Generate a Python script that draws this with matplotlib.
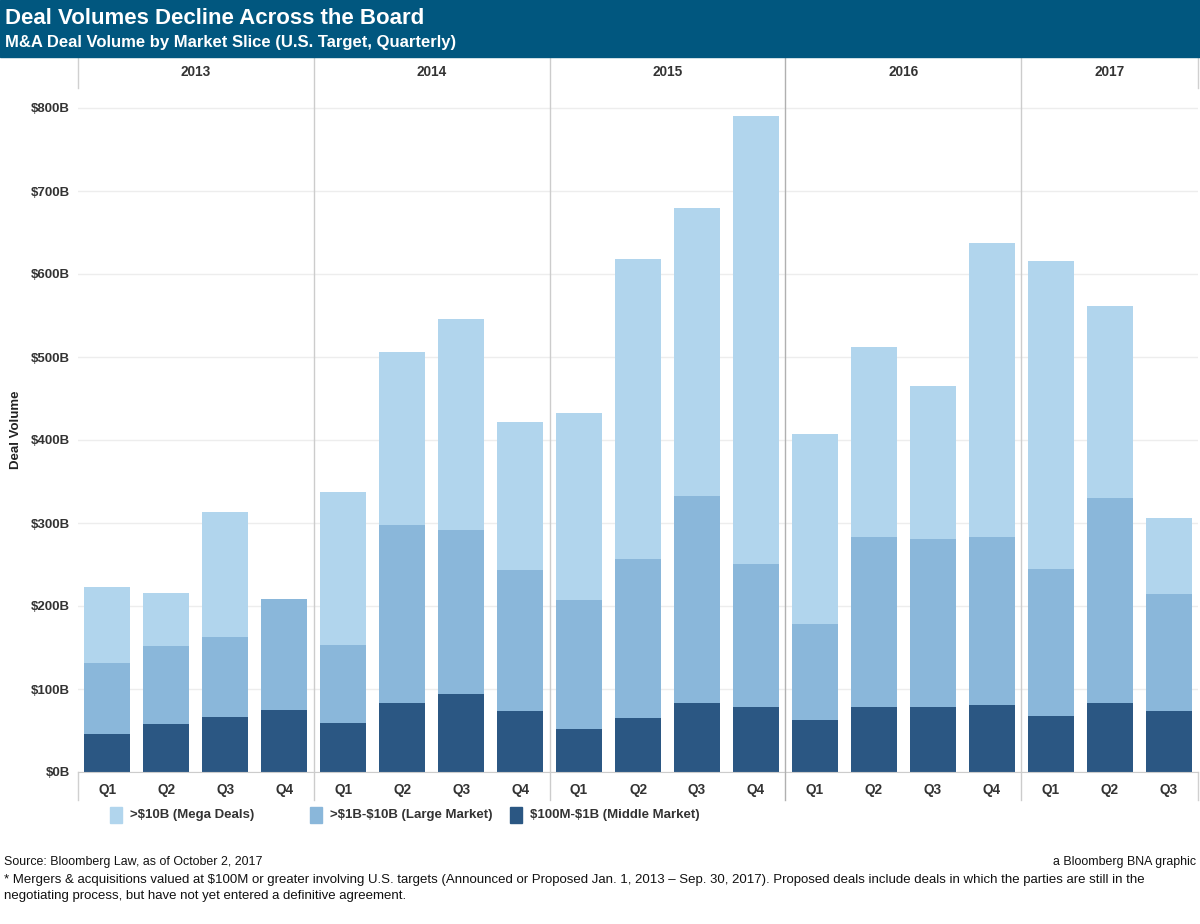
import matplotlib
matplotlib.use("Agg")
import matplotlib.pyplot as plt
import numpy as np
from matplotlib.patches import Rectangle

plt.rcParams['font.family'] = ['Liberation Sans', 'DejaVu Sans']
plt.rcParams['text.parse_math'] = False

years = ["2013", "2014", "2015", "2016", "2017"]
quarters_per_year = [4, 4, 4, 4, 3]
quarter_labels = ["Q1", "Q2", "Q3", "Q4"] * 4 + ["Q1", "Q2", "Q3"]

# values in $B
middle = [46, 58, 66, 75, 59, 83, 94, 73, 52, 65, 83, 78, 63, 78, 78, 81, 68, 83, 73]
large = [85, 94, 97, 134, 94, 215, 197, 170, 155, 192, 250, 173, 115, 205, 203, 202, 176, 247, 142]
mega = [92, 64, 150, 0, 184, 208, 255, 179, 225, 361, 347, 539, 229, 229, 184, 354, 372, 231, 91]

series_names = [">$10B (Mega Deals)", ">$1B-$10B (Large Market)", "$100M-$1B (Middle Market)"]
c_mega, c_large, c_mid = "#b1d5ed", "#8ab7da", "#2b5783"

W, H = 1200, 924
fig = plt.figure(figsize=(W / 100, H / 100), dpi=100)

def fx(px):
    return px / W

def fy(py):
    return 1 - py / H

# header band
fig.patches.append(Rectangle((0, fy(57)), 1, 57 / H, transform=fig.transFigure,
                             color="#01577f", zorder=0))
fig.text(fx(5), fy(18), "Deal Volumes Decline Across the Board", color="white",
         fontsize=16, fontweight="bold", va="center", ha="left")
fig.text(fx(5), fy(42), "M&A Deal Volume by Market Slice (U.S. Target, Quarterly)", color="white",
         fontsize=12, fontweight="bold", va="center", ha="left")

ax_l, ax_r, ax_t, ax_b = 78, 1198, 88, 772
ax = fig.add_axes([fx(ax_l), fy(ax_b), (ax_r - ax_l) / W, (ax_b - ax_t) / H])

x = np.arange(len(middle))
mid_arr = np.array(middle)
large_arr = np.array(large)
mega_arr = np.array(mega)
bw = 0.78
ax.bar(x, mid_arr, width=bw, color=c_mid, zorder=3)
ax.bar(x, large_arr, width=bw, bottom=mid_arr, color=c_large, zorder=3)
ax.bar(x, mega_arr, width=bw, bottom=mid_arr + large_arr, color=c_mega, zorder=3)

ymax = (ax_b - ax_t) / 0.83
ax.set_ylim(0, ymax)
ax.set_xlim(-0.5, len(middle) - 0.5)

yt = np.arange(0, 801, 100)
ax.set_yticks(yt)
ax.set_yticklabels([f"${v}B" for v in yt], fontsize=9.5, fontweight="bold", color="#333333")
ax.set_xticks(x)
ax.set_xticklabels(quarter_labels, fontsize=9.8, fontweight="bold", color="#333333")
ax.tick_params(axis="both", length=0)
ax.tick_params(axis="y", pad=6)
ax.tick_params(axis="x", pad=8)
ax.grid(axis="y", color="#ededed", linewidth=1, zorder=0)
for s in ["top", "left", "right"]:
    ax.spines[s].set_visible(False)
ax.spines["bottom"].set_color("#cccccc")
ax.spines["bottom"].set_zorder(4)

ax.set_ylabel("Deal Volume", fontsize=9.5, fontweight="bold", color="#222222")
ax.yaxis.set_label_coords(-0.050, 0.5)

tr = ax.get_xaxis_transform()
axh = ax_b - ax_t
y_low = -(800 - ax_b) / axh
y_high = 1 + (ax_t - 58) / axh
# year separators
bounds = np.cumsum(quarters_per_year)
starts = np.concatenate([[0], bounds[:-1]])
sep_colors = ["#cccccc", "#cccccc", "#b0b0b0", "#cccccc"]
for b, sc in zip(bounds[:-1], sep_colors):
    ax.plot([b - 0.5, b - 0.5], [y_low, y_high], transform=tr, color=sc,
            linewidth=1, clip_on=False, zorder=5)
for edge in [-0.5, len(middle) - 0.5]:
    ax.plot([edge, edge], [1.0, y_high], transform=tr, color="#d0d0d0", linewidth=1, clip_on=False)
    ax.plot([edge, edge], [y_low, 0], transform=tr, color="#d0d0d0", linewidth=1, clip_on=False)
for yr, s, n in zip(years, starts, quarters_per_year):
    ax.text(s + (n - 1) / 2, 1 + (ax_t - 72) / axh, yr, transform=tr, ha="center", va="center",
            fontsize=9.8, fontweight="bold", color="#333333")

# legend
leg_y = 815
for i, (name, col) in enumerate(zip(series_names, [c_mega, c_large, c_mid])):
    x0 = 110 + i * 200
    fig.patches.append(Rectangle((fx(x0), fy(leg_y + 8)), 12 / W, 16 / H,
                                 transform=fig.transFigure, color=col))
    fig.text(fx(x0 + 20), fy(leg_y), name, fontsize=9.5, fontweight="bold",
             color="#333333", va="center", ha="left")

# footer
fs = 9.5
fig.text(fx(4), fy(862), "Source: Bloomberg Law, as of October 2, 2017", fontsize=8.9,
         va="center", ha="left", color="#111111")
fig.text(fx(1196), fy(862), "a Bloomberg BNA graphic", fontsize=8.9, va="center", ha="right",
         color="#111111")
fig.text(fx(4), fy(880), "* Mergers & acquisitions valued at $100M or greater involving U.S. targets "
         "(Announced or Proposed Jan. 1, 2013 \u2013 Sep. 30, 2017). Proposed deals include deals in which "
         "the parties are still in the", fontsize=fs, va="center", ha="left", color="#111111")
fig.text(fx(4), fy(896), "negotiating process, but have not yet entered a definitive agreement.",
         fontsize=fs, va="center", ha="left", color="#111111")

fig.savefig("out.png", dpi=100)
